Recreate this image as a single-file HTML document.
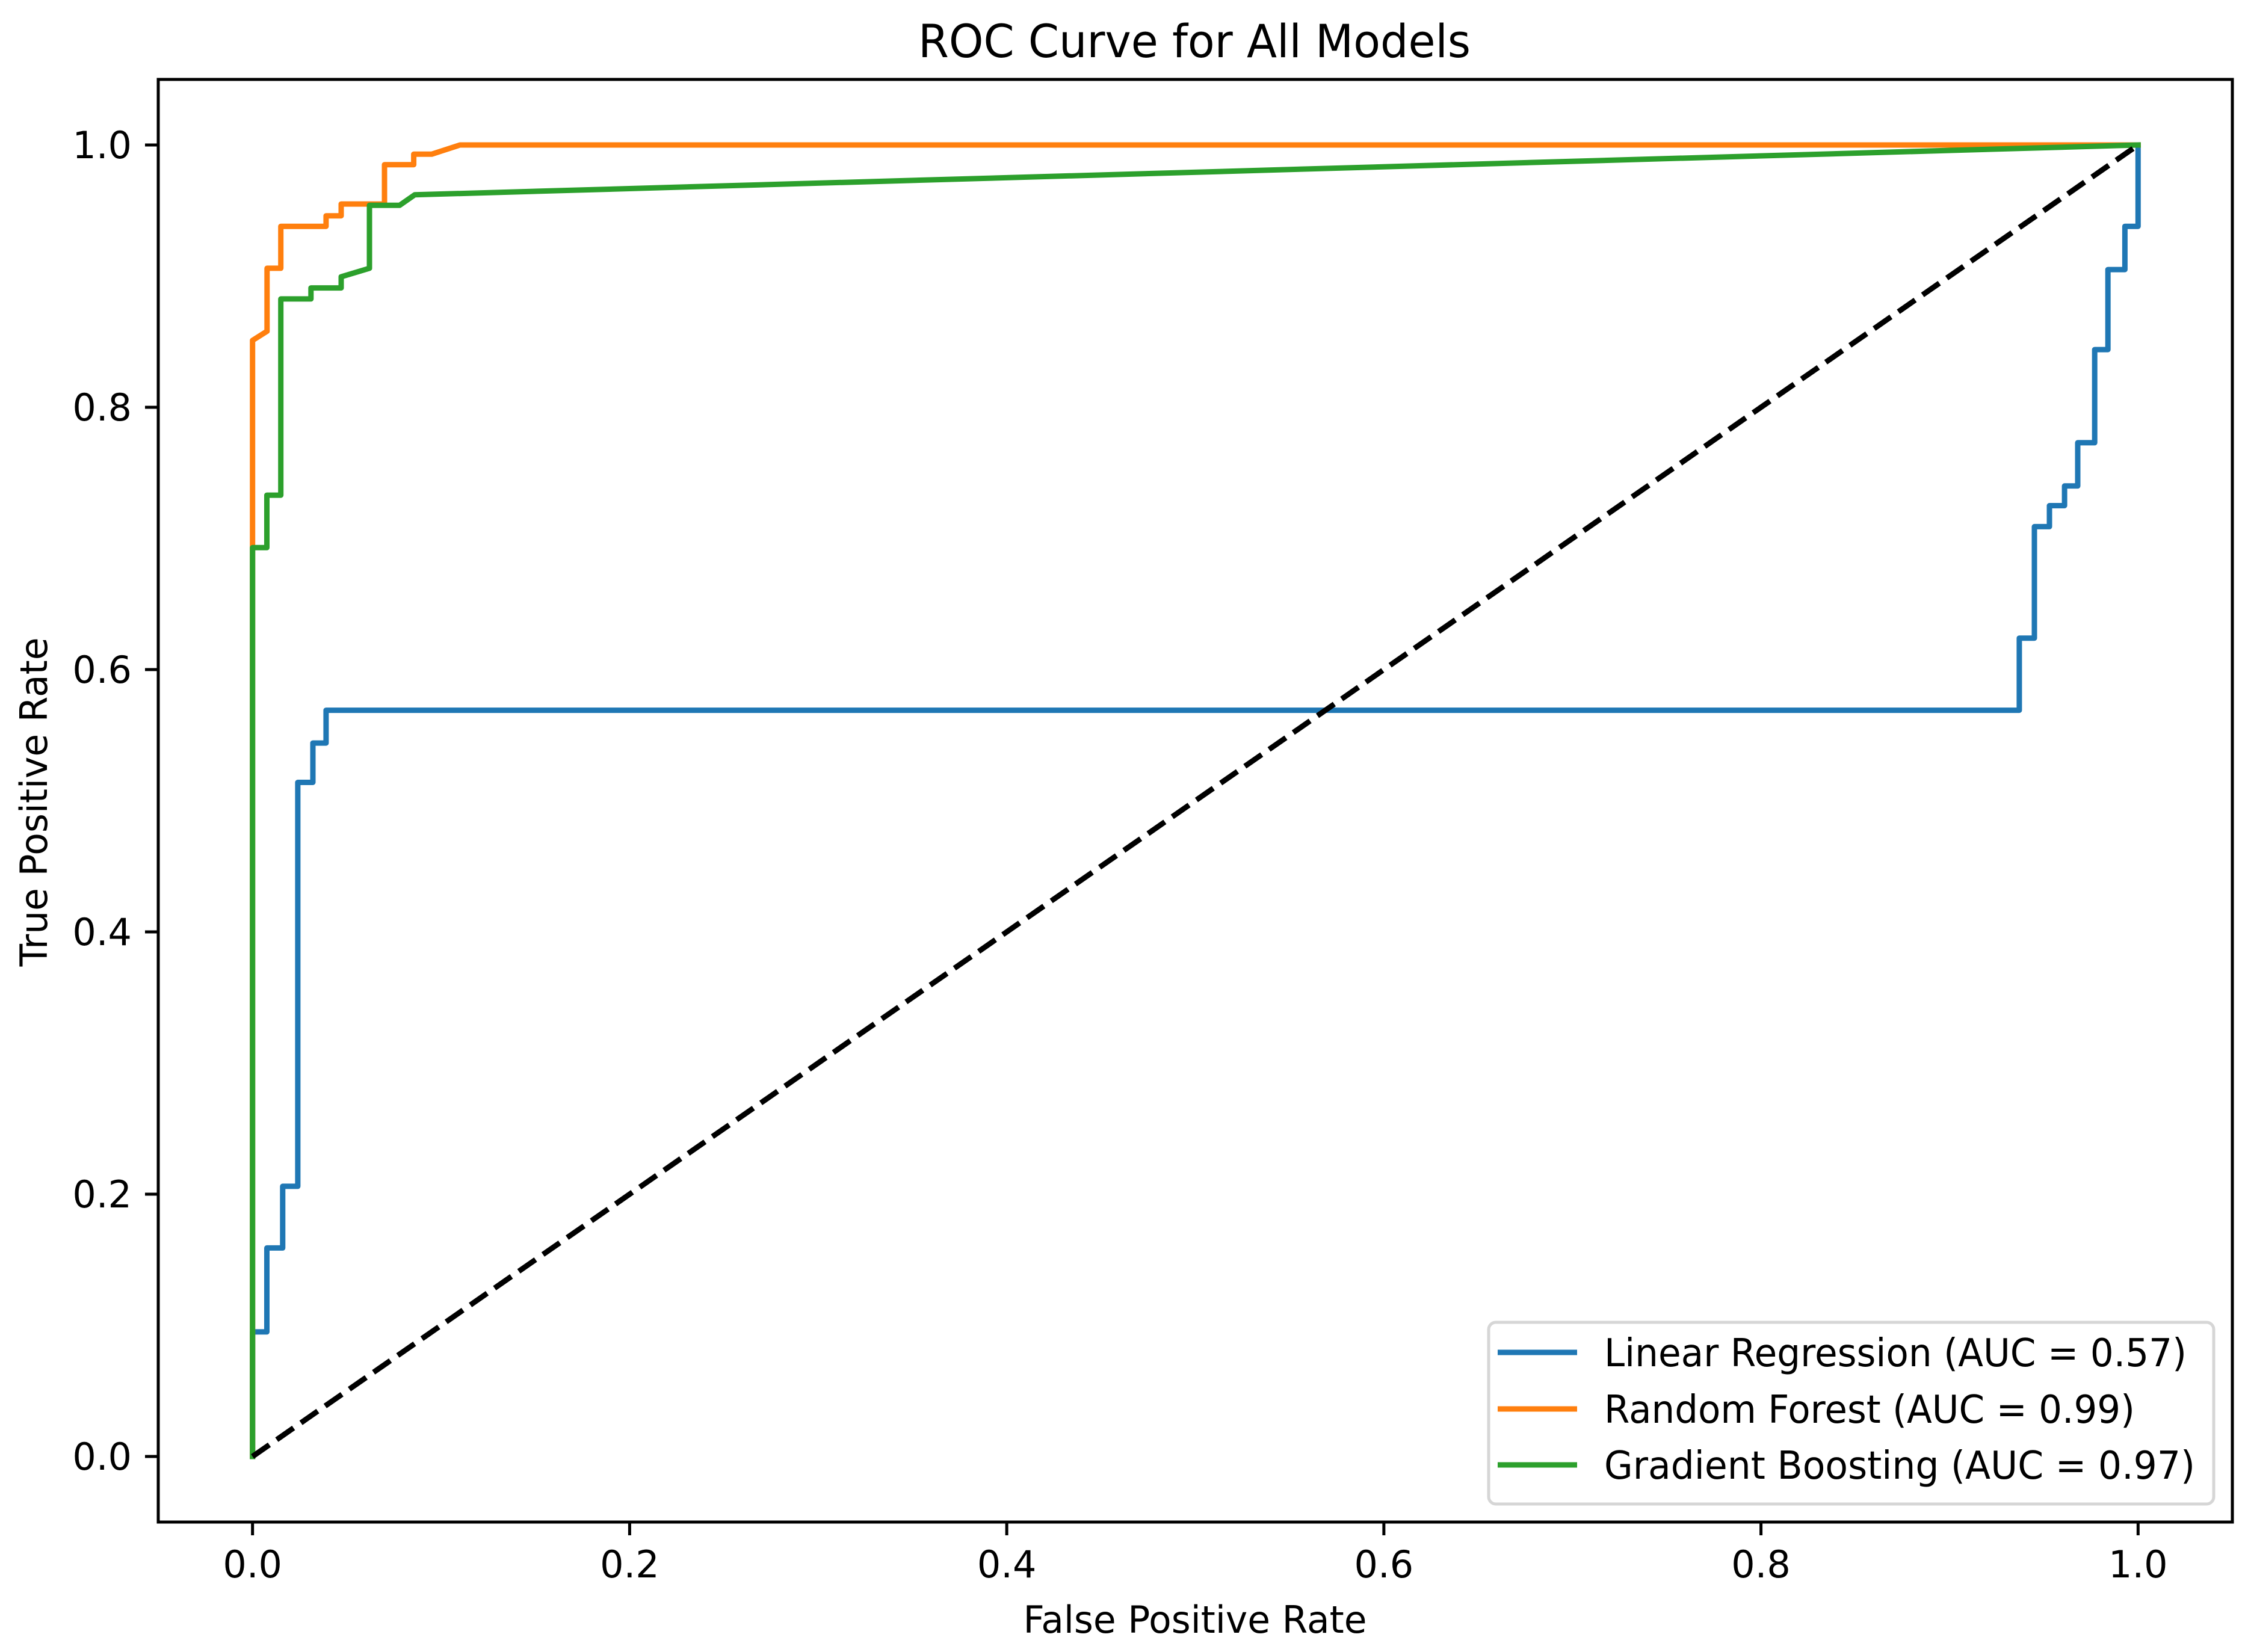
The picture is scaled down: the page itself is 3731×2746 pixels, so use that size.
<!DOCTYPE html>
<html><head><meta charset="utf-8"><style>
html,body{margin:0;padding:0;background:#fff;}
svg{display:block;font-family:"DejaVu Sans","Liberation Sans",sans-serif;}
</style></head><body>
<svg id="chart" width="3731" height="2746" viewBox="0 0 3731 2746" xmlns="http://www.w3.org/2000/svg">
<rect width="3731" height="2746" fill="#fff"/>
<text x="1985" y="95" font-size="76" text-anchor="middle" textLength="918" lengthAdjust="spacingAndGlyphs">ROC Curve for All Models</text>
<g id="plot"></g>
<text x="1986" y="2714" font-size="62" text-anchor="middle" textLength="571" lengthAdjust="spacingAndGlyphs">False Positive Rate</text>
<text transform="translate(78,1333) rotate(-90)" font-size="62" text-anchor="middle" textLength="547" lengthAdjust="spacingAndGlyphs">True Positive Rate</text>
</svg>
<script>
const xTicks = [0.0, 0.2, 0.4, 0.6, 0.8, 1.0];
const yTicks = [0.0, 0.2, 0.4, 0.6, 0.8, 1.0];
const tickLabels = ["0.0", "0.2", "0.4", "0.6", "0.8", "1.0"];
const seriesNames = ["Linear Regression (AUC = 0.57)", "Random Forest (AUC = 0.99)", "Gradient Boosting (AUC = 0.97)"];
const lrFpr = [0, 0, 0.0076, 0.0076, 0.016, 0.016, 0.024, 0.024, 0.032, 0.032, 0.039, 0.039, 0.937, 0.937, 0.945, 0.945, 0.953, 0.953, 0.961, 0.961, 0.968, 0.968, 0.977, 0.977, 0.984, 0.984, 0.993, 0.993, 1.0, 1.0];
const lrTpr = [0, 0.095, 0.095, 0.159, 0.159, 0.206, 0.206, 0.514, 0.514, 0.544, 0.544, 0.569, 0.569, 0.624, 0.624, 0.709, 0.709, 0.725, 0.725, 0.740, 0.740, 0.773, 0.773, 0.844, 0.844, 0.905, 0.905, 0.938, 0.938, 1.0];
const rfFpr = [0, 0, 0.0077, 0.0077, 0.015, 0.015, 0.039, 0.039, 0.047, 0.047, 0.070, 0.070, 0.0855, 0.0855, 0.095, 0.11, 1.0];
const rfTpr = [0, 0.851, 0.858, 0.906, 0.906, 0.938, 0.938, 0.946, 0.946, 0.955, 0.955, 0.985, 0.985, 0.993, 0.993, 1.0, 1.0];
const gbFpr = [0, 0, 0.0076, 0.0076, 0.015, 0.015, 0.031, 0.031, 0.047, 0.047, 0.062, 0.062, 0.078, 0.086, 1.0];
const gbTpr = [0, 0.693, 0.693, 0.733, 0.733, 0.8826, 0.8826, 0.891, 0.891, 0.8995, 0.906, 0.954, 0.954, 0.962, 1.0];
const diagX = [0, 1];
const diagY = [0, 1];

const L = 263, R = 3710, T = 132, B = 2530;
const xMin = -0.05, xMax = 1.05, yMin = -0.05, yMax = 1.05;
function sx(v){ return L + (v - xMin) / (xMax - xMin) * (R - L); }
function sy(v){ return B - (v - yMin) / (yMax - yMin) * (B - T); }
const NS = "http://www.w3.org/2000/svg";
const svg = document.getElementById('chart');
const plot = document.getElementById('plot');
function mk(tag, attrs, parent){
  const e = document.createElementNS(NS, tag);
  for (const k in attrs) e.setAttribute(k, attrs[k]);
  (parent || plot).appendChild(e);
  return e;
}
function pts(xs, ys){ return xs.map((x,i)=>sx(x).toFixed(1)+','+sy(ys[i]).toFixed(1)).join(' '); }

const lines = [
  {x: lrFpr, y: lrTpr, c: '#1f77b4', n: 'linear-regression-line'},
  {x: rfFpr, y: rfTpr, c: '#ff7f0e', n: 'random-forest-line'},
  {x: gbFpr, y: gbTpr, c: '#2ca02c', n: 'gradient-boosting-line'}
];
lines.forEach(s => {
  const p = mk('polyline', {points: pts(s.x, s.y), fill: 'none', stroke: s.c, 'stroke-width': 9, 'stroke-linejoin': 'round', 'stroke-linecap': 'square'});
  
  
});
const d = mk('polyline', {points: pts(diagX, diagY), fill: 'none', stroke: '#000', 'stroke-width': 9, 'stroke-dasharray': '34 15'});



const frame = mk('rect', {x: L, y: T, width: R - L, height: B - T, fill: 'none', stroke: '#000', 'stroke-width': 5});



xTicks.forEach((v, i) => {
  const t = mk('line', {x1: sx(v), x2: sx(v), y1: B, y2: B + 22, stroke: '#000', 'stroke-width': 5});
  
  
  const tx = mk('text', {x: sx(v), y: 2622, 'font-size': 62, 'text-anchor': 'middle'});
  tx.textContent = tickLabels[i];
  
  
});
yTicks.forEach((v, i) => {
  const t = mk('line', {x1: L - 22, x2: L, y1: sy(v), y2: sy(v), stroke: '#000', 'stroke-width': 5});
  
  
  const tx = mk('text', {x: 219, y: sy(v) + 22, 'font-size': 62, 'text-anchor': 'end'});
  tx.textContent = tickLabels[i];
  
  
});

const lg = mk('g', {});


const box = mk('rect', {x: 2474, y: 2198, width: 1205, height: 302, rx: 12, fill: '#fff', 'fill-opacity': 0.9, stroke: '#d6d6d6', 'stroke-width': 5}, lg);


const rowsY = [2248, 2342, 2435];
const widths = [968, 882, 982];
lines.forEach((s, i) => {
  const h = mk('line', {x1: 2489, x2: 2621, y1: rowsY[i], y2: rowsY[i], stroke: s.c, 'stroke-width': 9}, lg);
  
  
  const t = mk('text', {x: 2666, y: rowsY[i] + 23, 'font-size': 64, textLength: widths[i], lengthAdjust: 'spacingAndGlyphs'}, lg);
  t.textContent = seriesNames[i];
  
  
});
</script>
</body></html>
